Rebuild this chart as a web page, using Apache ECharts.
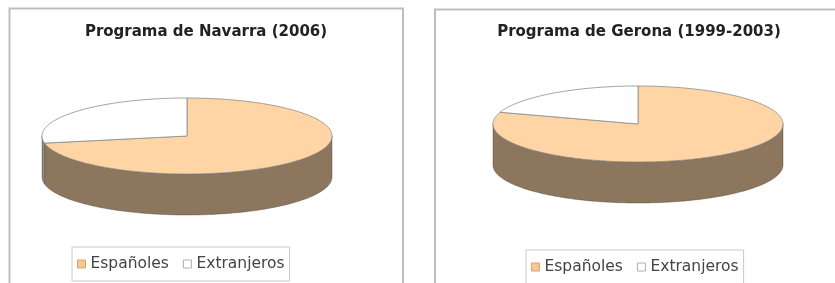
<!DOCTYPE html>
<html>
<head>
<meta charset="utf-8">
<script src="https://cdn.jsdelivr.net/npm/echarts@6/dist/echarts.min.js"></script>
<style>
  html, body { margin: 0; padding: 0; background: #fff; }
  #chart { width: 835px; height: 283px; }
</style>
</head>
<body>
<div id="chart"></div>
<script>
// datos
var categories = ['Españoles', 'Extranjeros'];
var navarra = [72, 28];
var gerona = [80, 20];
var titles = ['Programa de Navarra (2006)', 'Programa de Gerona (1999-2003)'];

var myChart = echarts.init(document.getElementById('chart'));

var topColors = ['#ffd5a5', '#ffffff'];
var sideColors = ['#8c775e', '#8f8a84'];

// geometría de las tartas 3D
var pies = [
    { values: navarra, cx: 187, cy: 136 },
    { values: gerona, cx: 638, cy: 124 }
];
var RX = 145, RY = 38, DEPTH = 41;

function arc(cx, cy, from, to, dy) {
    var pts = [];
    var n = Math.max(2, Math.ceil(Math.abs(to - from)));
    for (var i = 0; i <= n; i++) {
        var a = (from + (to - from) * i / n) * Math.PI / 180;
        pts.push([cx + RX * Math.cos(a), cy - RY * Math.sin(a) + dy]);
    }
    return pts;
}

function sliceSeries(pie, idx) {
    var vals = pie.values;
    var total = vals.reduce(function (a, b) { return a + b; }, 0);
    return {
        type: 'custom',
        name: categories[idx],
        coordinateSystem: 'none',
        data: [vals[idx]],
        silent: true,
        itemStyle: { color: topColors[idx], borderColor: '#999', borderWidth: 1 },
        renderItem: function (params, api) {
            var before = 0;
            for (var i = 0; i < idx; i++) before += vals[i];
            var a0 = 90 - before / total * 360;          // sentido horario desde arriba
            var a1 = a0 - api.value(0) / total * 360;
            var children = [];
            // lateral (solo la mitad delantera)
            for (var k = -1; k <= 1; k++) {
                var lo = Math.max(a1, -180 + 360 * k);
                var hi = Math.min(a0, 360 * k);
                if (hi > lo) {
                    var pts = arc(pie.cx, pie.cy, lo, hi, 0).concat(arc(pie.cx, pie.cy, hi, lo, DEPTH));
                    children.push({
                        type: 'polygon',
                        z2: 1,
                        shape: { points: pts },
                        style: { fill: sideColors[idx], stroke: 'rgba(60,50,40,0.45)', lineWidth: 0.8 }
                    });
                }
            }
            // cara superior
            var top = [[pie.cx, pie.cy]].concat(arc(pie.cx, pie.cy, a0, a1, 0));
            children.push({
                type: 'polygon',
                z2: 10,
                shape: { points: top },
                style: { fill: topColors[idx], stroke: '#8a8a8a', lineWidth: 0.8 }
            });
            return { type: 'group', children: children };
        }
    };
}

var series = [];
pies.forEach(function (pie) {
    categories.forEach(function (c, i) {
        series.push(sliceSeries(pie, i));
    });
});

var legendData = [
    { name: categories[0], itemStyle: { color: '#f7c892', borderColor: '#d9a56c', borderWidth: 1 } },
    { name: categories[1], itemStyle: { color: '#ffffff', borderColor: '#b0b0b0', borderWidth: 1 } }
];

function legendAt(left, top) {
    return {
        left: left,
        top: top,
        orient: 'horizontal',
        data: legendData,
        icon: 'rect',
        itemWidth: 8,
        itemHeight: 8,
        itemGap: 14,
        padding: [9, 5],
        borderColor: '#c8c8c8',
        borderWidth: 1,
        selectedMode: false,
        textStyle: { fontFamily: 'DejaVu Sans', fontSize: 15.5, color: '#444' }
    };
}

var option = {
    animation: false,
    title: [{
        text: titles[0],
        left: 206,
        top: 25,
        textAlign: 'center',
        padding: 0,
        textStyle: { fontFamily: 'DejaVu Sans', fontWeight: 'bold', fontSize: 15, color: '#222' }
    }, {
        text: titles[1],
        left: 639,
        top: 25,
        textAlign: 'center',
        padding: 0,
        textStyle: { fontFamily: 'DejaVu Sans', fontWeight: 'bold', fontSize: 15, color: '#222' }
    }],
    legend: [legendAt(72, 247), legendAt(526, 250)],
    graphic: [{
        type: 'rect',
        shape: { x: 9.5, y: 8.5, width: 393.5, height: 300 },
        style: { fill: 'none', stroke: '#bdbdbd', lineWidth: 2 },
        z: -1
    }, {
        type: 'rect',
        shape: { x: 435, y: 9.5, width: 420, height: 300 },
        style: { fill: 'none', stroke: '#bdbdbd', lineWidth: 2 },
        z: -1
    }],
    series: series
};

myChart.setOption(option);
</script>
</body>
</html>
